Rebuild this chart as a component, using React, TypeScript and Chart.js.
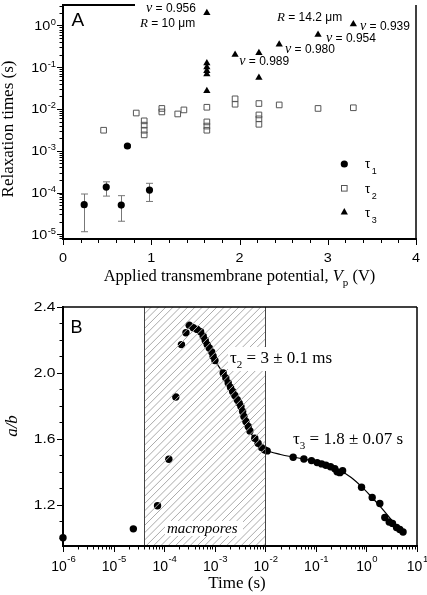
import React, { useEffect, useRef } from 'react';
import { Chart, registerables } from 'chart.js';

Chart.register(...registerables);

const W = 427;
const HA = 295;
const HB = 300;

// ---------- Panel A data ----------
const tau1Vp = [0.24, 0.49, 0.66, 0.98, 0.73];
const tau1T = [5.1e-5, 1.35e-4, 5.0e-5, 1.14e-4, 1.3e-3];
const tau1Lo = [1.15e-5, 8.2e-5, 2.05e-5, 6.1e-5, 1.22e-3];
const tau1Hi = [9.2e-5, 1.8e-4, 8.4e-5, 1.66e-4, 1.38e-3];

const tau2Vp = [0.46, 0.83, 0.92, 0.92, 0.92, 0.92, 1.12, 1.12, 1.3, 1.37, 1.63, 1.63, 1.63, 1.63, 1.95, 1.95, 2.22, 2.22, 2.22, 2.22, 2.45, 2.89, 3.29];
const tau2T = [3.1e-3, 8.0e-3, 5.2e-3, 4.1e-3, 3.1e-3, 2.4e-3, 1.03e-2, 8.5e-3, 7.6e-3, 9.5e-3, 1.1e-2, 4.9e-3, 3.9e-3, 3.1e-3, 1.75e-2, 1.3e-2, 1.35e-2, 7.2e-3, 5.8e-3, 4.3e-3, 1.25e-2, 1.03e-2, 1.07e-2];

const tau3Vp = [1.63, 1.63, 1.63, 1.63, 1.63, 1.63, 1.95, 2.22, 2.22, 2.45, 2.89, 3.29];
const tau3T = [2.0, 0.125, 0.1, 0.082, 0.068, 0.027, 0.2, 0.22, 0.056, 0.35, 0.6, 1.07];

const xTicksA = [0, 1, 2, 3, 4];
const yExpA = [-5, -4, -3, -2, -1, 0];
const legendA = ['1', '2', '3'];

// ---------- Panel B data ----------
const timeS = [
  1e-6, 2.46e-5, 7.4e-5, 1.24e-4, 1.7e-4, 2.2e-4, 2.7e-4, 3.13e-4, 3.76e-4, 4.5e-4,
  5.26e-4, 5.93e-4, 6.5e-4, 7.1e-4, 7.8e-4, 8.7e-4, 9.3e-4, 1.01e-3, 1.47e-3, 1.66e-3,
  1.85e-3, 2.06e-3, 2.26e-3, 2.5e-3, 2.79e-3, 3.05e-3, 3.3e-3, 3.56e-3, 3.78e-3, 4.14e-3,
  4.6e-3, 4.97e-3, 6.2e-3, 7.2e-3, 8.45e-3, 9.8e-3, 1.09e-2, 3.56e-2, 5.8e-2, 8.2e-2,
  0.106, 0.13, 0.158, 0.195, 0.237, 0.263, 0.298, 0.338, 0.8, 1.3,
  1.84, 2.31, 2.82, 3.28, 3.94, 4.57, 5.3,
];
const ratioAB = [
  1.0, 1.054, 1.194, 1.476, 1.854, 2.172, 2.244, 2.29, 2.274, 2.264,
  2.25, 2.223, 2.197, 2.172, 2.152, 2.128, 2.101, 2.075, 2.0, 1.97,
  1.939, 1.912, 1.888, 1.863, 1.837, 1.817, 1.797, 1.766, 1.736, 1.705,
  1.675, 1.648, 1.604, 1.573, 1.547, 1.533, 1.527, 1.488, 1.478, 1.468,
  1.456, 1.448, 1.44, 1.431, 1.419, 1.4, 1.395, 1.407, 1.306, 1.245,
  1.208, 1.123, 1.096, 1.087, 1.062, 1.05, 1.035,
];
const fitTime = [3.2e-4, 4.5e-4, 6e-4, 8e-4, 1e-3, 1.5e-3, 2e-3, 3e-3, 4e-3, 5e-3, 7e-3, 1e-2, 2e-2, 4e-2, 7e-2, 0.1, 0.2, 0.3, 0.5, 0.8, 1.2, 2, 3, 4, 5.5];
const fitRatio = [2.29, 2.265, 2.225, 2.16, 2.08, 1.995, 1.915, 1.815, 1.715, 1.645, 1.575, 1.535, 1.505, 1.487, 1.472, 1.462, 1.435, 1.41, 1.365, 1.31, 1.255, 1.18, 1.115, 1.07, 1.03];
const hatchRange = [4e-5, 1e-2];
const xExpB = [-6, -5, -4, -3, -2, -1, 0, 1];
const yTicksB = [1.2, 1.6, 2.0, 2.4];

// ---------- helpers ----------
const SANS = "'Liberation Sans', Arial, sans-serif";
const SERIF = "'Liberation Serif', 'Times New Roman', serif";

type Run = { t: string; f: string; dy?: number; sx?: number; dx?: number };

function runs(ctx: CanvasRenderingContext2D, list: Run[], x: number, y: number, align: 'left' | 'center' | 'right' = 'left') {
  ctx.save();
  ctx.fillStyle = '#000';
  ctx.textBaseline = 'alphabetic';
  ctx.textAlign = 'left';
  let total = 0;
  const ws = list.map((r) => {
    ctx.font = r.f;
    const w = ctx.measureText(r.t).width * (r.sx ?? 1) + (r.dx ?? 0);
    total += w;
    return w;
  });
  let cx = align === 'left' ? x : align === 'right' ? x - total : x - total / 2;
  list.forEach((r, i) => {
    ctx.font = r.f;
    ctx.save();
    ctx.translate(cx + (r.dx ?? 0), y + (r.dy ?? 0));
    ctx.scale(r.sx ?? 1, 1);
    ctx.fillText(r.t, 0, 0);
    ctx.restore();
    cx += ws[i];
  });
  ctx.restore();
  return total;
}

function line(ctx: CanvasRenderingContext2D, x1: number, y1: number, x2: number, y2: number) {
  ctx.beginPath();
  ctx.moveTo(x1, y1);
  ctx.lineTo(x2, y2);
  ctx.stroke();
}

const nuRun = (v: string): Run[] => [
  { t: 'ν', f: `italic 14px ${SERIF}` },
  { t: ' = ' + v, f: `12px ${SANS}` },
];
const rRun = (v: string): Run[] => [
  { t: 'R', f: `italic 13px ${SERIF}` },
  { t: ' = ' + v + ' μm', f: `12px ${SANS}` },
];

// ---------- Panel A plugin ----------
const pluginA = {
  id: 'panelA',
  beforeDatasetsDraw(chart: any) {
    const ctx = chart.ctx as CanvasRenderingContext2D;
    const xs = chart.scales.x;
    const ys = chart.scales.y;
    ctx.save();
    ctx.strokeStyle = '#777';
    ctx.lineWidth = 1;
    tau1Vp.forEach((v, i) => {
      const px = Math.round(xs.getPixelForValue(v)) + 0.5;
      const yl = ys.getPixelForValue(tau1Lo[i]);
      const yh = ys.getPixelForValue(tau1Hi[i]);
      line(ctx, px, yl, px, yh);
      line(ctx, px - 3.5, yl, px + 3.5, yl);
      line(ctx, px - 3.5, yh, px + 3.5, yh);
    });
    ctx.restore();
  },
  afterDraw(chart: any) {
    const ctx = chart.ctx as CanvasRenderingContext2D;
    const ca = chart.chartArea;
    const xs = chart.scales.x;
    const ys = chart.scales.y;
    ctx.save();
    ctx.strokeStyle = '#000';
    // frame
    ctx.lineWidth = 2;
    line(ctx, ca.left, ca.top - 1, ca.left, ca.bottom + 1);
    line(ctx, ca.left - 1, ca.bottom, ca.right + 1, ca.bottom);
    line(ctx, ca.left - 1, ca.top, 135, ca.top);
    ctx.lineWidth = 1.5;
    line(ctx, ca.right, ca.top, ca.right, ca.bottom);
    // y ticks (log)
    ctx.lineWidth = 1;
    for (let e = -6; e <= 0; e++) {
      for (let k = 1; k <= 9; k++) {
        const v = k * Math.pow(10, e);
        if (v < ys.min || v > ys.max) continue;
        const py = Math.round(ys.getPixelForValue(v)) + 0.5;
        line(ctx, ca.left - (k === 1 ? 6 : 3.5), py, ca.left, py);
      }
    }
    // x ticks
    for (let i = 0; i <= 20; i++) {
      const v = i * 0.2;
      const px = Math.round(xs.getPixelForValue(v)) + 0.5;
      line(ctx, px, ca.bottom, px, ca.bottom + (i % 5 === 0 ? 6 : 4));
    }
    // tick labels
    yExpA.forEach((e) => {
      const py = ys.getPixelForValue(Math.pow(10, e));
      runs(ctx, [
        { t: '10', f: `12px ${SANS}`, sx: 1.2 },
        { t: String(e), f: `8.5px ${SANS}`, dy: -5, sx: 1.1, dx: 0.5 },
      ], 56, py + 4.5, 'right');
    });
    xTicksA.forEach((v) => {
      runs(ctx, [{ t: String(v), f: `12px ${SANS}`, sx: 1.2 }], xs.getPixelForValue(v), ca.bottom + 23, 'center');
    });
    // axis titles
    ctx.save();
    ctx.translate(13, 129);
    ctx.rotate(-Math.PI / 2);
    runs(ctx, [{ t: 'Relaxation times (s)', f: `17px ${SERIF}` }], 0, 0, 'center');
    ctx.restore();
    runs(ctx, [
      { t: 'Applied transmembrane potential, ', f: `16.5px ${SERIF}` },
      { t: 'V', f: `italic 16.5px ${SERIF}` },
      { t: 'p', f: `11px ${SERIF}`, dy: 5 },
      { t: ' (V)', f: `16.5px ${SERIF}` },
    ], (ca.left + ca.right) / 2, 281, 'center');
    // panel label
    runs(ctx, [{ t: 'A', f: `19px ${SANS}` }], 71.5, 26);
    // annotations
    runs(ctx, nuRun('0.956'), 146, 11.7);
    runs(ctx, rRun('10'), 140, 26.7);
    runs(ctx, rRun('14.2'), 277, 20.7);
    runs(ctx, nuRun('0.939'), 360, 30);
    runs(ctx, nuRun('0.954'), 326, 41.7);
    runs(ctx, nuRun('0.980'), 285, 53.3);
    runs(ctx, nuRun('0.989'), 239.3, 65);
    // legend
    const lx = 344.3;
    const lys = [164, 188.3, 212.3];
    ctx.fillStyle = '#000';
    ctx.beginPath();
    ctx.arc(lx, lys[0], 3.6, 0, Math.PI * 2);
    ctx.fill();
    ctx.strokeStyle = '#555';
    ctx.lineWidth = 1;
    ctx.strokeRect(lx - 2.8, lys[1] - 2.8, 5.6, 5.6);
    ctx.beginPath();
    const r = 4.2;
    ctx.moveTo(lx, lys[2] - r);
    ctx.lineTo(lx + r * Math.sin(Math.PI / 3), lys[2] + r / 2);
    ctx.lineTo(lx - r * Math.sin(Math.PI / 3), lys[2] + r / 2);
    ctx.closePath();
    ctx.fill();
    legendA.forEach((s, i) => {
      runs(ctx, [
        { t: 'τ', f: `13px ${SANS}` },
        { t: s, f: `9px ${SANS}`, dy: 6, dx: 1.5 },
      ], 365, lys[i] + 4.3);
    });
    ctx.restore();
  },
};

// ---------- Panel B plugin ----------
const pluginB = {
  id: 'panelB',
  afterDatasetsDraw(chart: any) {
    const ctx = chart.ctx as CanvasRenderingContext2D;
    const ca = chart.chartArea;
    const xs = chart.scales.x;
    const x0 = xs.getPixelForValue(hatchRange[0]);
    const x1 = xs.getPixelForValue(hatchRange[1]);
    const h = ca.bottom - ca.top;
    ctx.save();
    ctx.beginPath();
    ctx.rect(x0, ca.top, x1 - x0, h);
    ctx.clip();
    ctx.strokeStyle = '#aaa';
    ctx.lineWidth = 1;
    ctx.beginPath();
    for (let s = x0 - h; s < x1 + 10; s += 7.3) {
      ctx.moveTo(s, ca.bottom);
      ctx.lineTo(s + h, ca.top);
    }
    ctx.stroke();
    ctx.restore();
    ctx.save();
    ctx.strokeStyle = '#444';
    ctx.lineWidth = 1;
    line(ctx, Math.round(x0) + 0.5, ca.top, Math.round(x0) + 0.5, ca.bottom);
    line(ctx, Math.round(x1) + 0.5, ca.top, Math.round(x1) + 0.5, ca.bottom);
    // text boxes
    ctx.fillStyle = '#fff';
    ctx.fillRect(228, 52, 104, 24);
    ctx.fillRect(165, 226, 78, 15);
    ctx.restore();
    runs(ctx, [
      { t: 'τ', f: `17px ${SERIF}` },
      { t: '2', f: `11px ${SERIF}`, dy: 5 },
      { t: ' = 3 ± 0.1 ms', f: `17px ${SERIF}` },
    ], 230, 67.7);
    runs(ctx, [
      { t: 'τ', f: `17px ${SERIF}` },
      { t: '3', f: `11px ${SERIF}`, dy: 5 },
      { t: ' = 1.8 ± 0.07 s', f: `17px ${SERIF}` },
    ], 293, 149);
    runs(ctx, [{ t: 'macropores', f: `italic 15px ${SERIF}` }], 167, 237.5);
  },
  afterDraw(chart: any) {
    const ctx = chart.ctx as CanvasRenderingContext2D;
    const ca = chart.chartArea;
    const xs = chart.scales.x;
    const ys = chart.scales.y;
    ctx.save();
    ctx.strokeStyle = '#000';
    ctx.lineWidth = 2;
    line(ctx, ca.left, ca.top - 1, ca.left, ca.bottom + 1);
    line(ctx, ca.left - 1, ca.bottom, ca.right + 1, ca.bottom);
    ctx.lineWidth = 1.5;
    line(ctx, ca.left, ca.top, ca.right, ca.top);
    line(ctx, ca.right, ca.top, ca.right, ca.bottom);
    ctx.lineWidth = 1;
    // y ticks
    for (let i = 10; i <= 24; i++) {
      const v = i / 10;
      const py = Math.round(ys.getPixelForValue(v)) + 0.5;
      line(ctx, ca.left - (i % 4 === 0 ? 6 : 3.5), py, ca.left, py);
    }
    // x ticks (log)
    for (let e = -6; e <= 1; e++) {
      for (let k = 1; k <= 9; k++) {
        const v = k * Math.pow(10, e);
        if (v < xs.min * 0.999 || v > xs.max * 1.001) continue;
        const px = Math.round(xs.getPixelForValue(v)) + 0.5;
        line(ctx, px, ca.bottom, px, ca.bottom + (k === 1 ? 6 : 3.5));
      }
    }
    yTicksB.forEach((v) => {
      runs(ctx, [{ t: v.toFixed(1), f: `12px ${SANS}`, sx: 1.3 }], 55.5, ys.getPixelForValue(v) + 4.4, 'right');
    });
    xExpB.forEach((e) => {
      runs(ctx, [
        { t: '10', f: `14px ${SANS}` },
        { t: String(e), f: `9.5px ${SANS}`, dy: -9, dx: 0.5 },
      ], xs.getPixelForValue(Math.pow(10, e)) + 0.5, ca.bottom + 24.7, 'center');
    });
    ctx.save();
    ctx.translate(17, 131);
    ctx.rotate(-Math.PI / 2);
    runs(ctx, [{ t: 'a/b', f: `italic 17px ${SERIF}` }], 0, 0, 'center');
    ctx.restore();
    runs(ctx, [{ t: 'Time (s)', f: `17px ${SERIF}` }], 237, 293, 'center');
    runs(ctx, [{ t: 'B', f: `18px ${SANS}` }], 70.5, 38.3);
    ctx.restore();
  },
};

const hiddenScale = {
  ticks: { display: false },
  grid: { display: false },
  border: { display: false },
};

export default function App() {
  const refA = useRef<HTMLCanvasElement>(null);
  const refB = useRef<HTMLCanvasElement>(null);

  useEffect(() => {
    const chartA = new Chart(refA.current as HTMLCanvasElement, {
      type: 'scatter',
      data: {
        datasets: [
          {
            data: tau1Vp.map((v, i) => ({ x: v, y: tau1T[i] })),
            pointStyle: 'circle',
            pointRadius: 3.6,
            backgroundColor: '#000',
            borderColor: '#000',
            borderWidth: 0,
            clip: false,
          },
          {
            data: tau2Vp.map((v, i) => ({ x: v, y: tau2T[i] })),
            pointStyle: 'rect',
            pointRadius: 4,
            backgroundColor: 'rgba(255,255,255,0)',
            borderColor: '#555',
            borderWidth: 1,
            clip: false,
          },
          {
            data: tau3Vp.map((v, i) => ({ x: v, y: tau3T[i] })),
            pointStyle: 'triangle',
            pointRadius: 4.2,
            backgroundColor: '#000',
            borderColor: '#000',
            borderWidth: 0,
            clip: false,
          },
        ] as any,
      },
      options: {
        animation: false,
        responsive: false,
        devicePixelRatio: 1,
        events: [],
        layout: { padding: { top: 2, right: 11, left: 0, bottom: 0 } },
        plugins: { legend: { display: false }, tooltip: { enabled: false } },
        scales: {
          x: {
            type: 'linear',
            min: 0,
            max: 4,
            ...hiddenScale,
            afterFit: (s: any) => { s.height = 56; },
          },
          y: {
            type: 'logarithmic',
            min: 7.7e-6,
            max: 3.09,
            ...hiddenScale,
            afterFit: (s: any) => { s.width = 63; },
          },
        } as any,
      },
      plugins: [pluginA],
    });

    const chartB = new Chart(refB.current as HTMLCanvasElement, {
      type: 'scatter',
      data: {
        datasets: [
          {
            data: timeS.map((t, i) => ({ x: t, y: ratioAB[i] })),
            pointStyle: 'circle',
            pointRadius: 3.7,
            backgroundColor: '#000',
            borderWidth: 0,
            clip: false,
          },
          {
            data: fitTime.map((t, i) => ({ x: t, y: fitRatio[i] })),
            showLine: true,
            borderColor: '#000',
            borderWidth: 1.2,
            pointRadius: 0,
            tension: 0.4,
            cubicInterpolationMode: 'monotone',
            clip: false,
          },
        ] as any,
      },
      options: {
        animation: false,
        responsive: false,
        devicePixelRatio: 1,
        events: [],
        layout: { padding: { top: 12, right: 10, left: 0, bottom: 0 } },
        plugins: { legend: { display: false }, tooltip: { enabled: false } },
        scales: {
          x: {
            type: 'logarithmic',
            min: 1e-6,
            max: 10,
            ...hiddenScale,
            afterFit: (s: any) => { s.height = 49; },
          },
          y: {
            type: 'linear',
            min: 0.95,
            max: 2.4,
            ...hiddenScale,
            afterFit: (s: any) => { s.width = 63; },
          },
        } as any,
      },
      plugins: [pluginB],
    });

    return () => {
      chartA.destroy();
      chartB.destroy();
    };
  }, []);

  return (
    <div style={{ position: 'absolute', left: 0, top: 0, width: W, height: HA + HB, background: '#fff' }}>
      <canvas ref={refA} width={W} height={HA} style={{ display: 'block', width: W, height: HA }} />
      <canvas ref={refB} width={W} height={HB} style={{ display: 'block', width: W, height: HB }} />
    </div>
  );
}
